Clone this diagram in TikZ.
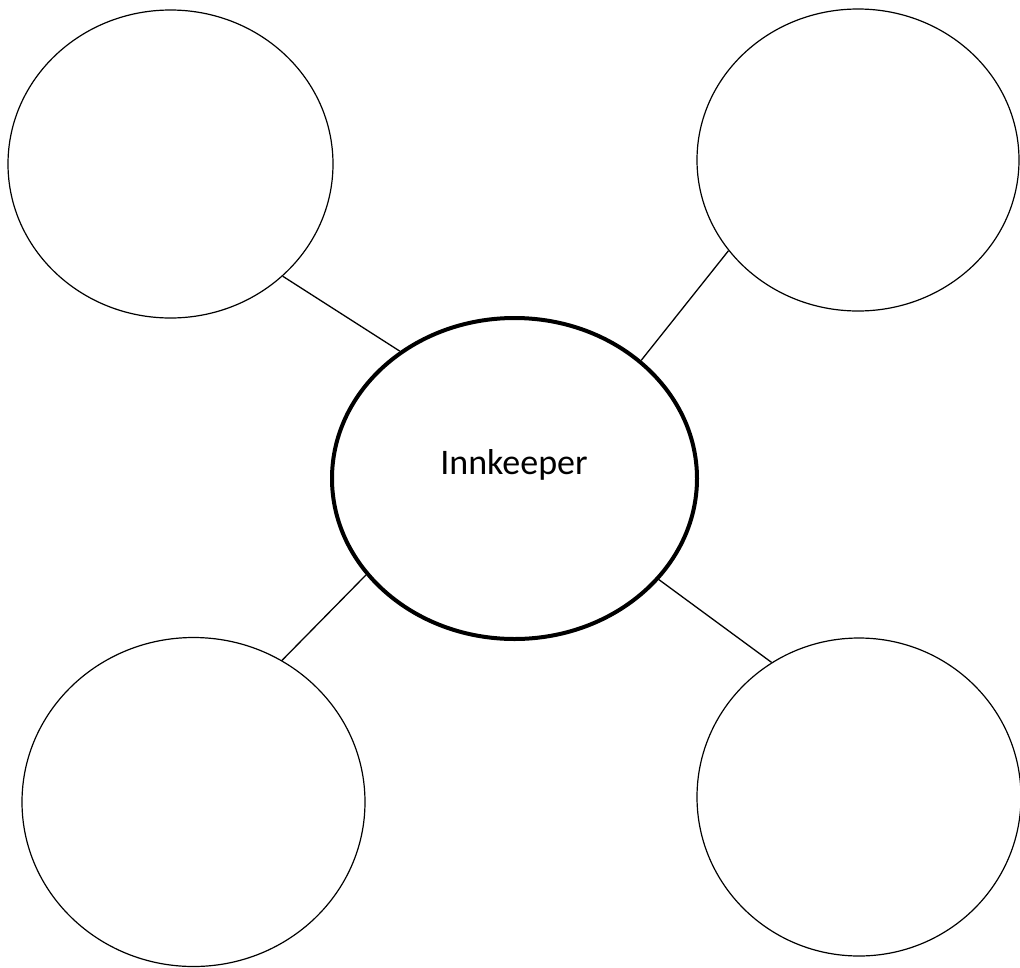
\documentclass[tikz,border=0pt]{standalone}
\usepackage{fontspec}
\setmainfont{Carlito}
\usetikzlibrary{shapes.geometric}
\tikzset{
  bubble/.style={ellipse, draw=black, line width=1.2pt, inner sep=0pt},
  hub/.style={ellipse, draw=black, line width=4pt, inner sep=0pt},
  link/.style={draw=black, line width=1.3pt}
}
\begin{document}
\begin{tikzpicture}[x=1pt,y=-1pt]
\useasboundingbox (0,0) rectangle (1020,967);
\node[hub, minimum width=365pt, minimum height=321pt] (c) at (514.5,478.5) {};
\node[anchor=base, font=\fontsize{36}{40}\selectfont] (lbl) at (514,474) {Innkeeper};
\node[bubble, minimum width=325pt, minimum height=308pt] (tl) at (170.5,164) {};
\node[bubble, minimum width=322pt, minimum height=302pt] (tr) at (858,160) {};
\node[bubble, minimum width=343pt, minimum height=329pt] (bl) at (193.5,802) {};
\node[bubble, minimum width=324pt, minimum height=318pt] (br) at (859,797) {};
\draw[link] (tl.-45.9) -- (c.132.6);
\draw[link] (tr.215.6) -- (c.43.8);
\draw[link] (bl.58.9) -- (c.213.4);
\draw[link] (br.123.4) -- (c.-35.1);
\end{tikzpicture}
\end{document}
